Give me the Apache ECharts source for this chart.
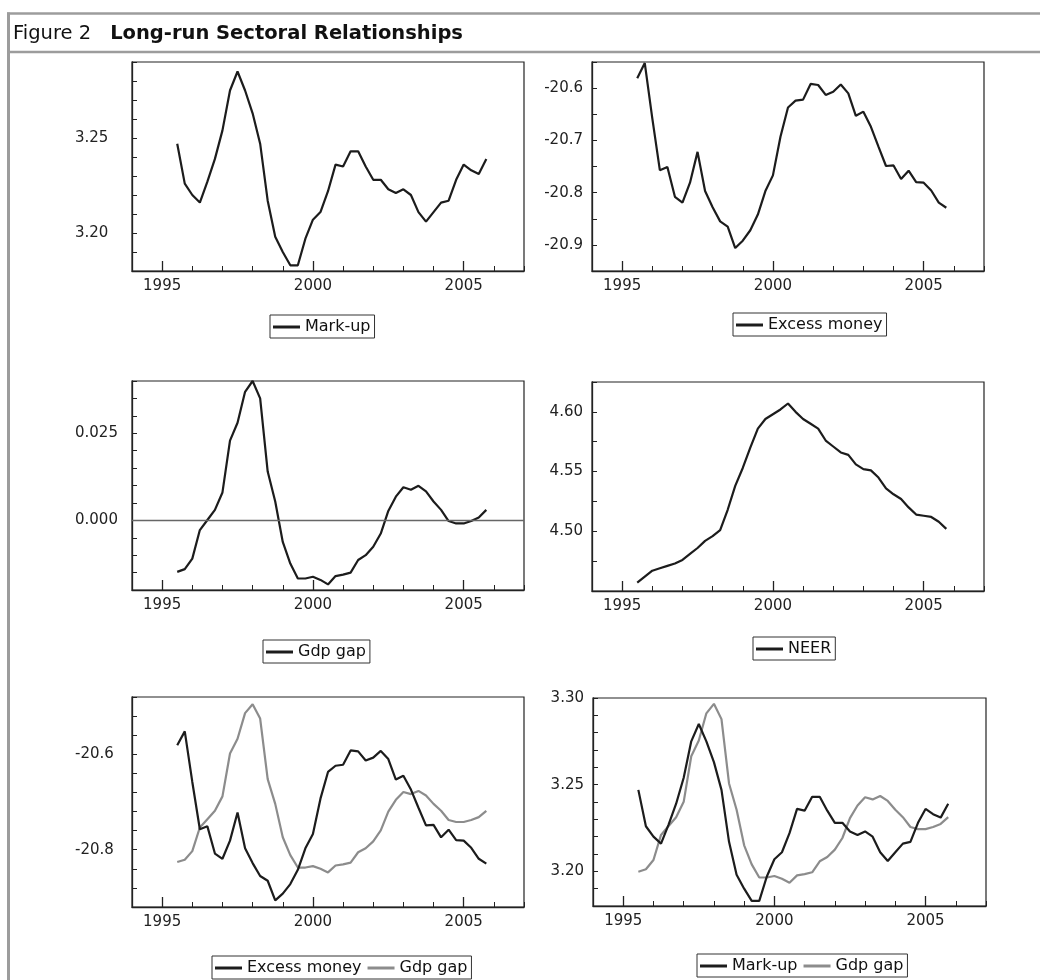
<!DOCTYPE html>
<html>
<head>
<meta charset="utf-8">
<script src="https://cdn.jsdelivr.net/npm/echarts@6/dist/echarts.min.js"></script>
<style>
html,body{margin:0;padding:0;background:#fff;}
#chart{width:1040px;height:980px;}
</style>
</head>
<body>
<div id="chart"></div>
<script>
// Quarterly observations, 1995Q3 - 2005Q4 (decimal years)
var quarters = [1995.50,1995.75,1996.00,1996.25,1996.50,1996.75,1997.00,1997.25,1997.50,1997.75,
  1998.00,1998.25,1998.50,1998.75,1999.00,1999.25,1999.50,1999.75,2000.00,2000.25,
  2000.50,2000.75,2001.00,2001.25,2001.50,2001.75,2002.00,2002.25,2002.50,2002.75,
  2003.00,2003.25,2003.50,2003.75,2004.00,2004.25,2004.50,2004.75,2005.00,2005.25,
  2005.50,2005.75];

var markUp = [3.247,3.226,3.220,3.216,3.227,3.239,3.254,3.275,3.285,3.275,
  3.263,3.247,3.217,3.198,3.190,3.183,3.183,3.197,3.207,3.211,
  3.222,3.236,3.235,3.243,3.243,3.235,3.228,3.228,3.223,3.221,
  3.223,3.220,3.211,3.206,3.211,3.216,3.217,3.228,3.236,3.233,
  3.231,3.239];

var excessMoney = [-20.581,-20.552,-20.658,-20.757,-20.751,-20.808,-20.819,-20.781,-20.722,-20.797,
  -20.828,-20.855,-20.865,-20.906,-20.892,-20.872,-20.842,-20.797,-20.767,-20.693,
  -20.637,-20.624,-20.622,-20.592,-20.594,-20.613,-20.607,-20.593,-20.610,-20.653,
  -20.645,-20.674,-20.712,-20.749,-20.748,-20.774,-20.758,-20.780,-20.781,-20.796,
  -20.819,-20.829];

var gdpGap = [-0.0148,-0.0140,-0.0110,-0.0028,0.0001,0.0030,0.0080,0.0229,0.0280,0.0369,
  0.0400,0.0350,0.0140,0.0054,-0.0062,-0.0124,-0.0167,-0.0167,-0.0162,-0.0171,
  -0.0184,-0.0160,-0.0156,-0.0150,-0.0114,-0.0100,-0.0076,-0.0038,0.0027,0.0068,
  0.0095,0.0088,0.0099,0.0083,0.0054,0.0030,-0.0002,-0.0009,-0.0009,-0.0002,
  0.0008,0.0030];

var neer = [4.457,4.462,4.467,4.469,4.471,4.473,4.476,4.481,4.486,4.492,
  4.496,4.501,4.518,4.538,4.553,4.570,4.586,4.594,4.598,4.602,
  4.607,4.600,4.594,4.590,4.586,4.576,4.571,4.566,4.564,4.556,
  4.552,4.551,4.545,4.536,4.531,4.527,4.520,4.514,4.513,4.512,
  4.508,4.502];

// Axis tick labels
var yearMinorTicks = [1994,1995,1996,1997,1998,1999,2000,2001,2002,2003,2004,2005,2006,2007];
var yearLabels = [1995,2000,2005];

var FONT = 'DejaVu Sans';
var BLACK = '#1c1c1c';
var GRAY = '#8c8c8c';

function pairs(arr){ return quarters.map(function(q,i){ return [q, arr[i]]; }); }

var grids = [
  {left:132, top:62,  width:392, height:209},
  {left:592, top:62,  width:392, height:209},
  {left:132, top:381, width:392, height:209},
  {left:592, top:382, width:392, height:209},
  {left:132, top:697, width:392, height:210},
  {left:593, top:698, width:393, height:208}
];

var xAxes = [];
grids.forEach(function(g, k){
  xAxes.push({gridIndex:k, type:'value', min:1994, max:2007, position:'bottom',
    axisLine:{show:true, onZero:false, lineStyle:{color:'#222', width:1.3}},
    axisTick:{show:true, inside:true, length:5, customValues:yearMinorTicks, lineStyle:{color:'#222', width:1}},
    axisLabel:{show:false}, splitLine:{show:false}});
  xAxes.push({gridIndex:k, type:'value', min:1994, max:2007, position:'bottom',
    axisLine:{show:false, onZero:false},
    axisTick:{show:true, inside:true, length:10, customValues:yearLabels, lineStyle:{color:'#222', width:1.3}},
    axisLabel:{show:true, customValues:yearLabels, fontFamily:FONT, fontSize:15, color:'#222', margin:8,
      formatter:function(v){ return String(Math.round(v)); }},
    splitLine:{show:false}});
});

function isMult(v, step){ var r = v/step; return Math.abs(r - Math.round(r)) < 1e-6; }
function yAx(k, min, max, interval, labelStep, dec, leftCol, hideMin){
  return {gridIndex:k, type:'value', min:min, max:max, interval:interval,
    axisLine:{show:true, onZero:false, lineStyle:{color:'#222', width:1.3}},
    axisTick:{show:true, inside:true, length:5, lineStyle:{color:'#222', width:1}},
    axisLabel:{show:true, fontFamily:FONT, fontSize:15, color:'#222',
      align: leftCol ? 'left' : 'right', margin: leftCol ? 57 : 9,
      formatter:function(v){
        if (hideMin && Math.abs(v - min) < 1e-9) return '';
        return isMult(v, labelStep) ? v.toFixed(dec) : ''; }},
    splitLine:{show:false}};
}

var yAxes = [
  yAx(0, 3.18, 3.29, 0.01, 0.05, 2, true),
  yAx(1, -20.95, -20.55, 0.05, 0.1, 1, false),
  yAx(2, -0.02, 0.04, 0.005, 0.025, 3, true),
  yAx(3, 4.45, 4.625, 0.025, 0.05, 2, false, true),
  yAx(4, -20.92, -20.48, 0.04, 0.2, 1, true),
  yAx(5, 3.18, 3.30, 0.01, 0.05, 2, false),
  {gridIndex:4, type:'value', show:false, min:-0.0304, max:0.0425, splitLine:{show:false}},
  {gridIndex:5, type:'value', show:false, min:-0.0260, max:0.0419, splitLine:{show:false}}
];

function line(name, arr, xi, yi, color, extra){
  var s = {name:name, type:'line', xAxisIndex:xi, yAxisIndex:yi, data:pairs(arr),
    showSymbol:false, symbol:'none', silent:true, animation:false,
    itemStyle:{color:color}, lineStyle:{color:color, width:2.2}};
  if (extra) for (var k in extra) s[k] = extra[k];
  return s;
}

var series = [
  line('p1:Mark-up', markUp, 0, 0, BLACK),
  line('p2:Excess money', excessMoney, 2, 1, BLACK),
  line('p3:Gdp gap', gdpGap, 4, 2, BLACK, {markLine:{silent:true, symbol:'none', animation:false,
      label:{show:false}, lineStyle:{color:'#666', width:1.3, type:'solid'}, data:[{yAxis:0}]}}),
  line('p4:NEER', neer, 6, 3, BLACK),
  line('p5:Gdp gap', gdpGap, 8, 6, GRAY),
  line('p5:Excess money', excessMoney, 8, 4, BLACK),
  line('p6:Gdp gap', gdpGap, 10, 7, GRAY),
  line('p6:Mark-up', markUp, 10, 5, BLACK)
];

function leg(names, left, top){
  return {data:names, left:left, top:top, orient:'horizontal', icon:'rect',
    itemWidth:27, itemHeight:3, itemGap:6, padding:[4,4,3,3],
    borderColor:'#333', borderWidth:1, backgroundColor:'#fff', selectedMode:false,
    formatter:function(n){ return n.split(':')[1]; },
    textStyle:{fontFamily:FONT, fontSize:16, color:'#111'}};
}

var legends = [
  leg(['p1:Mark-up'], 270, 315),
  leg(['p2:Excess money'], 733, 313),
  leg(['p3:Gdp gap'], 263, 640),
  leg(['p4:NEER'], 753, 637),
  leg(['p5:Excess money','p5:Gdp gap'], 212, 956),
  leg(['p6:Mark-up','p6:Gdp gap'], 697, 954)
];

var chart = echarts.init(document.getElementById('chart'), null, {renderer:'canvas'});
chart.setOption({
  backgroundColor:'#fff',
  animation:false,
  title:{text:'{a|Figure 2}{b|Long-run Sectoral Relationships}', left:13, top:23, padding:0,
    textStyle:{rich:{
      a:{fontFamily:FONT, fontSize:19.5, fontWeight:'normal', color:'#111', lineHeight:22},
      b:{fontFamily:FONT, fontSize:19.5, fontWeight:'bold', color:'#111', lineHeight:22, padding:[0,0,0,19]}
    }}},
  graphic:[
    {type:'line', silent:true, shape:{x1:7, y1:13.5, x2:1040, y2:13.5}, style:{stroke:'#9c9c9c', lineWidth:2.5}},
    {type:'line', silent:true, shape:{x1:7, y1:52, x2:1040, y2:52}, style:{stroke:'#9c9c9c', lineWidth:2.5}},
    {type:'line', silent:true, shape:{x1:8.5, y1:12.5, x2:8.5, y2:980}, style:{stroke:'#9c9c9c', lineWidth:3}}
  ],
  grid:grids.map(function(g){ return {left:g.left, top:g.top, width:g.width, height:g.height,
    show:true, borderColor:'#222', borderWidth:1.2, backgroundColor:'transparent', containLabel:false}; }),
  xAxis:xAxes,
  yAxis:yAxes,
  legend:legends,
  series:series
});
</script>
</body>
</html>
